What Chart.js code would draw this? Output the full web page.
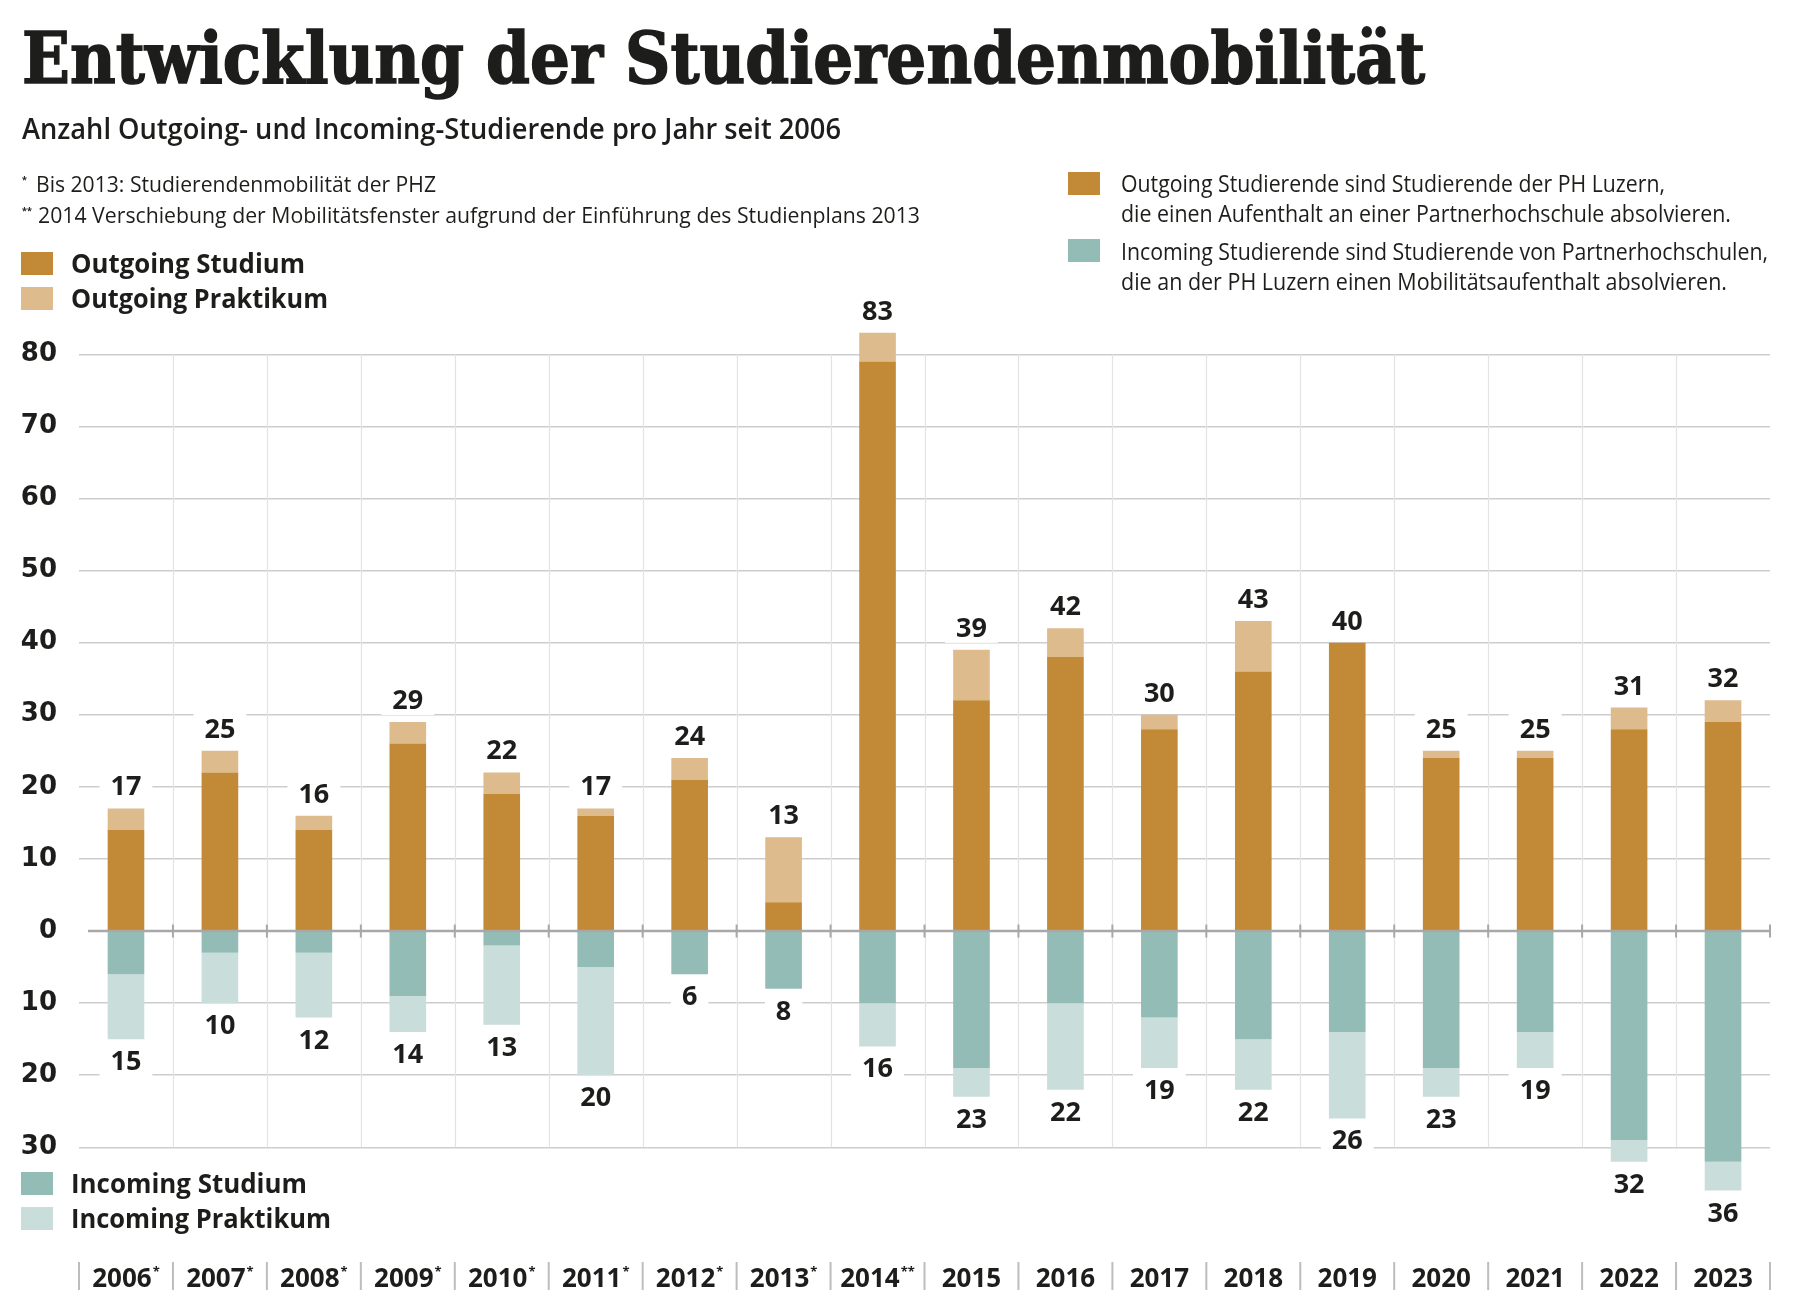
<!DOCTYPE html>
<html lang="de">
<head>
<meta charset="utf-8">
<title>Entwicklung der Studierendenmobilität</title>
<script src="https://cdn.jsdelivr.net/npm/chart.js@4.4.1/dist/chart.umd.min.js"></script>
<style>
html,body{margin:0;padding:0;background:#fff;}
body{width:1800px;height:1301px;position:relative;overflow:hidden;font-family:'Open Sans',sans-serif;color:#1d1d1b;}
#chart{position:absolute;left:0;top:0;}
.t{position:absolute;left:0;top:0;white-space:nowrap;line-height:1.2;margin:0;color:#1d1d1b;}
#title{font-family:'DejaVu Serif',serif;font-weight:700;font-size:71px;-webkit-text-stroke:1.6px #1d1d1b;}
#subtitle{font-weight:600;font-size:28px;}
.note{font-weight:400;font-size:21px;}
.mark{font-weight:700;font-size:9px;}
.lg{font-weight:700;font-size:26.5px;}
.desc{font-weight:400;font-size:24px;}
.sw{position:absolute;width:32px;height:23px;}
</style>
</head>
<body>
<canvas id="chart" width="1800" height="1301"></canvas>

<h1 class="t" id="title">Entwicklung der Studierendenmobilität</h1>
<div class="t" id="subtitle">Anzahl Outgoing- und Incoming-Studierende pro Jahr seit 2006</div>

<div class="t mark" id="mark1">*</div>
<div class="t note" id="note1">Bis 2013: Studierendenmobilität der PHZ</div>
<div class="t mark" id="mark2">**</div>
<div class="t note" id="note2">2014 Verschiebung der Mobilitätsfenster aufgrund der Einführung des Studienplans 2013</div>

<div class="sw" id="swOS"></div><div class="t lg" id="lgOS">Outgoing Studium</div>
<div class="sw" id="swOP"></div><div class="t lg" id="lgOP">Outgoing Praktikum</div>
<div class="sw" id="swIS"></div><div class="t lg" id="lgIS">Incoming Studium</div>
<div class="sw" id="swIP"></div><div class="t lg" id="lgIP">Incoming Praktikum</div>

<div class="sw" id="swD1"></div>
<div class="t desc" id="d1">Outgoing Studierende sind Studierende der PH Luzern,</div>
<div class="t desc" id="d2">die einen Aufenthalt an einer Partnerhochschule absolvieren.</div>
<div class="sw" id="swD2"></div>
<div class="t desc" id="d3">Incoming Studierende sind Studierende von Partnerhochschulen,</div>
<div class="t desc" id="d4">die an der PH Luzern einen Mobilitätsaufenthalt absolvieren.</div>

<script>
// ---------------- data ----------------
const years = ['2006','2007','2008','2009','2010','2011','2012','2013','2014','2015','2016','2017','2018','2019','2020','2021','2022','2023'];
const yearMarks = ['*','*','*','*','*','*','*','*','**','','','','','','','','',''];
const outgoingStudium   = [14,22,14,26,19,16,21, 4,79,32,38,28,36,40,24,24,28,29];
const outgoingPraktikum = [ 3, 3, 2, 3, 3, 1, 3, 9, 4, 7, 4, 2, 7, 0, 1, 1, 3, 3];
const incomingStudium   = [ 6, 3, 3, 9, 2, 5, 6, 8,10,19,10,12,15,14,19,14,29,32];
const incomingPraktikum = [ 9, 7, 9, 5,11,15, 0, 0, 6, 4,12, 7, 7,12, 4, 5, 3, 4];
const yTickValues = [-30,-20,-10,0,10,20,30,40,50,60,70,80];

// ---------------- colours ----------------
const C_OS = '#C28A36', C_OP = '#DDBB8C', C_IS = '#94BCB7', C_IP = '#C9DDDA';
const INK = '#1d1d1b';

// swatches
function sw(id, x, y, c){ const e=document.getElementById(id); e.style.left=x+'px'; e.style.top=y+'px'; e.style.background=c; }
sw('swOS',21,252,C_OS); sw('swOP',21,287,C_OP);
sw('swIS',21,1172,C_IS); sw('swIP',21,1207,C_IP);
sw('swD1',1068,172,C_OS); sw('swD2',1068,239,C_IS);

// place a text element by its baseline, optionally fitting a target width
function place(id, x, baseline, w){
  const el=document.getElementById(id);
  el.style.left=x+'px'; el.style.top='0px';
  const probe=document.createElement('span');
  probe.style.cssText='display:inline-block;width:0;height:0;vertical-align:baseline;';
  el.appendChild(probe);
  const off=probe.getBoundingClientRect().top-el.getBoundingClientRect().top;
  el.removeChild(probe);
  el.style.top=(baseline-off)+'px';
  if(w){
    const nat=el.getBoundingClientRect().width;
    el.style.transformOrigin='0 0';
    el.style.transform='scaleX('+(w/nat)+')';
  }
}
function layoutTexts(){
  place('title',22,83,1403);
  place('subtitle',22,139,819);
  place('mark1',22,183);
  place('note1',36,192,400);
  place('mark2',22,214);
  place('note2',38,223,882);
  place('lgOS',71,273,234);
  place('lgOP',71,308,257);
  place('lgIS',71,1193,236);
  place('lgIP',71,1228,260);
  place('d1',1121,192,544);
  place('d2',1121,222,610);
  place('d3',1121,260,647);
  place('d4',1121,290,606);
}
layoutTexts();

// ---------------- custom drawing plugin ----------------
const customDraw = {
  id:'customDraw',
  beforeDatasetsDraw(chart){
    const {ctx, scales:{x,y}} = chart;
    const step = x.getPixelForValue(1)-x.getPixelForValue(0);
    const top=y.getPixelForValue(80), bot=y.getPixelForValue(-30);
    ctx.save();
    ctx.strokeStyle='#e3e3e3'; ctx.lineWidth=1.2;
    for(let i=1;i<years.length;i++){
      const bx=Math.round(x.getPixelForValue(i)-step/2)+0.5;
      ctx.beginPath(); ctx.moveTo(bx,top); ctx.lineTo(bx,bot); ctx.stroke();
    }
    ctx.restore();
  },
  afterDraw(chart){
    const {ctx, chartArea, scales:{x,y}} = chart;
    const step = x.getPixelForValue(1)-x.getPixelForValue(0);
    const y0=y.getPixelForValue(0);
    ctx.save();
    // zero line with tick marks
    ctx.strokeStyle='#a8a8a8'; ctx.lineWidth=2.5;
    ctx.beginPath(); ctx.moveTo(chartArea.left+9,y0); ctx.lineTo(chartArea.right,y0); ctx.stroke();
    ctx.lineWidth=2;
    for(let i=1;i<=years.length;i++){
      const bx=x.getPixelForValue(i-1)+step/2;
      ctx.beginPath(); ctx.moveTo(bx,y0-6.5); ctx.lineTo(bx,y0+6.5); ctx.stroke();
    }
    // value labels
    ctx.font='700 27px "Open Sans"';
    ctx.textAlign='center'; ctx.textBaseline='alphabetic';
    for(let i=0;i<years.length;i++){
      const cx=x.getPixelForValue(i);
      const outT=outgoingStudium[i]+outgoingPraktikum[i];
      const inT=incomingStudium[i]+incomingPraktikum[i];
      const labels=[[String(outT), y.getPixelForValue(outT)-13],[String(inT), y.getPixelForValue(-inT)+31]];
      for(const [txt,bl] of labels){
        const w=ctx.measureText(txt).width;
        ctx.fillStyle='#ffffff';
        ctx.fillRect(cx-w/2-11, bl-25, w+22, 31);
        ctx.fillStyle=INK;
        ctx.fillText(txt,cx,bl);
      }
    }
    // x axis labels with separators
    const base=1287;
    ctx.strokeStyle='#bdbdbd'; ctx.lineWidth=2;
    for(let i=0;i<=years.length;i++){
      const bx=x.getPixelForValue(0)-step/2+i*step;
      ctx.beginPath(); ctx.moveTo(bx,1262); ctx.lineTo(bx,1290); ctx.stroke();
    }
    for(let i=0;i<years.length;i++){
      const cx=x.getPixelForValue(i);
      ctx.font='700 26px "Open Sans"';
      const wy=ctx.measureText(years[i]).width;
      ctx.font='700 13px "Open Sans"';
      const wm=yearMarks[i]?ctx.measureText(yearMarks[i]).width+1:0;
      const start=cx-(wy+wm)/2;
      ctx.textAlign='left';
      ctx.fillStyle=INK;
      ctx.font='700 26px "Open Sans"';
      ctx.fillText(years[i],start,base);
      if(yearMarks[i]){
        ctx.font='700 13px "Open Sans"';
        ctx.fillText(yearMarks[i],start+wy+1,base-11);
      }
    }
    ctx.restore();
  }
};

// ---------------- chart ----------------
new Chart(document.getElementById('chart'),{
  type:'bar',
  data:{
    labels:years,
    datasets:[
      {label:'Outgoing Studium',   data:outgoingStudium,   backgroundColor:C_OS},
      {label:'Outgoing Praktikum', data:outgoingPraktikum, backgroundColor:C_OP},
      {label:'Incoming Studium',   data:incomingStudium.map(v=>-v),   backgroundColor:C_IS},
      {label:'Incoming Praktikum', data:incomingPraktikum.map(v=>-v), backgroundColor:C_IP}
    ]
  },
  options:{
    responsive:false,
    devicePixelRatio:1,
    animation:false,
    layout:{padding:{left:0,right:30,top:311,bottom:96}},
    datasets:{bar:{barPercentage:0.39,categoryPercentage:1,borderWidth:0,stack:'s'}},
    plugins:{legend:{display:false},tooltip:{enabled:false},title:{display:false}},
    scales:{
      x:{stacked:true,display:false,offset:true},
      y:{
        stacked:true,min:-38,max:86,
        afterFit:s=>{s.width=79;},
        afterBuildTicks:s=>{s.ticks=yTickValues.map(v=>({value:v}));},
        border:{display:false},
        grid:{drawTicks:false,lineWidth:1.5,color:c=>(c.tick&&c.tick.value===0)?'rgba(0,0,0,0)':'#cdcdcd'},
        ticks:{padding:22,color:INK,font:{family:'DejaVu Sans',size:26,weight:'bold'},callback:v=>String(Math.abs(v))}
      }
    }
  },
  plugins:[customDraw]
});
</script>
</body>
</html>
